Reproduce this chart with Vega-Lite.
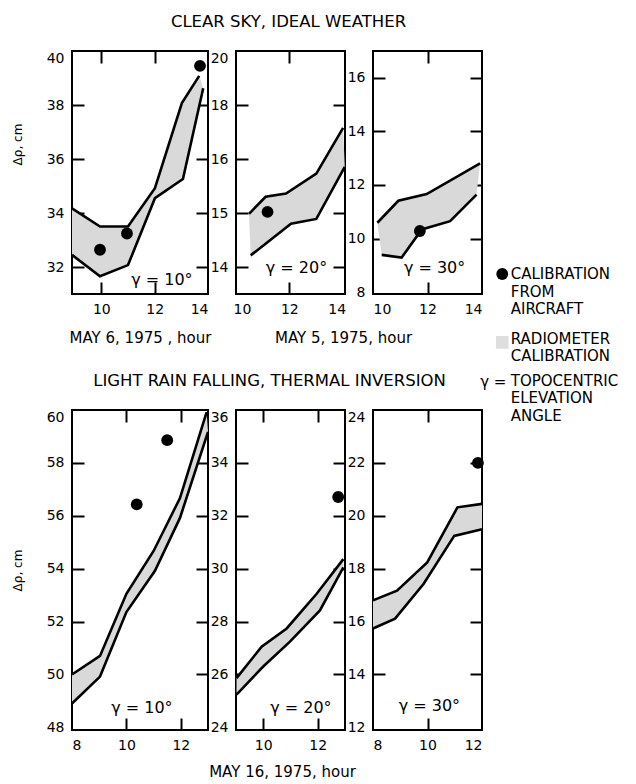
{
  "$schema": "https://vega.github.io/schema/vega-lite/v6.json",
  "background": "white",
  "padding": {"left": 10, "top": 12, "right": 2, "bottom": 4},
  "config": {
    "font": "DejaVu Sans",
    "view": {"stroke": "black", "strokeWidth": 2},
    "scale": {"nice": false, "zero": false},
    "axis": {
      "domain": false,
      "grid": false,
      "tickColor": "black",
      "tickWidth": 2,
      "tickSize": -12,
      "labelColor": "black",
      "labelFont": "DejaVu Sans",
      "labelFontSize": 14,
      "labelPadding": 8,
      "labelOverlap": false,
      "titleColor": "black",
      "titleFont": "DejaVu Sans",
      "titleFontSize": 15,
      "titleFontWeight": "normal"
    },
    "title": {"font": "DejaVu Sans", "fontWeight": "normal", "color": "black", "fontSize": 16.5},
    "text": {"font": "DejaVu Sans", "color": "black"}
  },
  "datasets": {
    "bands": [
      {"panel": "p1", "edge": "upper", "ring": 1, "hour": 8.9, "dr": 34.17},
      {"panel": "p1", "edge": "upper", "ring": 2, "hour": 9.95, "dr": 33.5},
      {"panel": "p1", "edge": "upper", "ring": 3, "hour": 11.0, "dr": 33.5},
      {"panel": "p1", "edge": "upper", "ring": 4, "hour": 12.01, "dr": 34.92},
      {"panel": "p1", "edge": "upper", "ring": 5, "hour": 13.02, "dr": 38.07},
      {"panel": "p1", "edge": "upper", "ring": 6, "hour": 13.67, "dr": 39.08},
      {"panel": "p1", "edge": "lower", "ring": 12, "hour": 8.9, "dr": 32.45},
      {"panel": "p1", "edge": "lower", "ring": 11, "hour": 9.95, "dr": 31.66},
      {"panel": "p1", "edge": "lower", "ring": 10, "hour": 11.0, "dr": 32.07},
      {"panel": "p1", "edge": "lower", "ring": 9, "hour": 12.01, "dr": 34.55},
      {"panel": "p1", "edge": "lower", "ring": 8, "hour": 13.06, "dr": 35.26},
      {"panel": "p1", "edge": "lower", "ring": 7, "hour": 13.82, "dr": 38.62},

      {"panel": "p2", "edge": "upper", "ring": 1, "hour": 10.3, "dr": 13.97},
      {"panel": "p2", "edge": "upper", "ring": 2, "hour": 11.0, "dr": 14.6},
      {"panel": "p2", "edge": "upper", "ring": 3, "hour": 11.86, "dr": 14.72},
      {"panel": "p2", "edge": "upper", "ring": 4, "hour": 13.14, "dr": 15.46},
      {"panel": "p2", "edge": "upper", "ring": 5, "hour": 14.27, "dr": 17.15},
      {"panel": "p2", "edge": "lower", "ring": 9, "hour": 10.37, "dr": 12.43},
      {"panel": "p2", "edge": "lower", "ring": 8, "hour": 12.07, "dr": 13.6},
      {"panel": "p2", "edge": "lower", "ring": 7, "hour": 13.14, "dr": 13.78},
      {"panel": "p2", "edge": "lower", "ring": 6, "hour": 14.34, "dr": 15.71},

      {"panel": "p3", "edge": "upper", "ring": 1, "hour": 10.16, "dr": 10.59},
      {"panel": "p3", "edge": "upper", "ring": 2, "hour": 10.93, "dr": 11.41},
      {"panel": "p3", "edge": "upper", "ring": 3, "hour": 11.97, "dr": 11.66},
      {"panel": "p3", "edge": "upper", "ring": 4, "hour": 13.93, "dr": 12.81},
      {"panel": "p3", "edge": "lower", "ring": 9, "hour": 10.32, "dr": 9.39},
      {"panel": "p3", "edge": "lower", "ring": 8, "hour": 11.05, "dr": 9.29},
      {"panel": "p3", "edge": "lower", "ring": 7, "hour": 11.79, "dr": 10.34},
      {"panel": "p3", "edge": "lower", "ring": 6, "hour": 12.83, "dr": 10.65},
      {"panel": "p3", "edge": "lower", "ring": 5, "hour": 13.8, "dr": 11.64},

      {"panel": "p4", "edge": "upper", "ring": 1, "hour": 8.0, "dr": 50.0},
      {"panel": "p4", "edge": "upper", "ring": 2, "hour": 9.03, "dr": 50.7},
      {"panel": "p4", "edge": "upper", "ring": 3, "hour": 10.0, "dr": 53.05},
      {"panel": "p4", "edge": "upper", "ring": 4, "hour": 11.0, "dr": 54.67},
      {"panel": "p4", "edge": "upper", "ring": 5, "hour": 11.97, "dr": 56.67},
      {"panel": "p4", "edge": "upper", "ring": 6, "hour": 12.95, "dr": 59.92},
      {"panel": "p4", "edge": "lower", "ring": 12, "hour": 8.0, "dr": 48.9},
      {"panel": "p4", "edge": "lower", "ring": 11, "hour": 9.03, "dr": 49.92},
      {"panel": "p4", "edge": "lower", "ring": 10, "hour": 10.0, "dr": 52.36},
      {"panel": "p4", "edge": "lower", "ring": 9, "hour": 11.05, "dr": 53.92},
      {"panel": "p4", "edge": "lower", "ring": 8, "hour": 11.97, "dr": 55.92},
      {"panel": "p4", "edge": "lower", "ring": 7, "hour": 13.0, "dr": 59.17},

      {"panel": "p5", "edge": "upper", "ring": 1, "hour": 9.02, "dr": 25.86},
      {"panel": "p5", "edge": "upper", "ring": 2, "hour": 9.94, "dr": 27.05},
      {"panel": "p5", "edge": "upper", "ring": 3, "hour": 10.86, "dr": 27.74},
      {"panel": "p5", "edge": "upper", "ring": 4, "hour": 11.96, "dr": 29.05},
      {"panel": "p5", "edge": "upper", "ring": 5, "hour": 12.94, "dr": 30.36},
      {"panel": "p5", "edge": "lower", "ring": 10, "hour": 9.02, "dr": 25.24},
      {"panel": "p5", "edge": "lower", "ring": 9, "hour": 10.0, "dr": 26.3},
      {"panel": "p5", "edge": "lower", "ring": 8, "hour": 10.98, "dr": 27.24},
      {"panel": "p5", "edge": "lower", "ring": 7, "hour": 12.08, "dr": 28.42},
      {"panel": "p5", "edge": "lower", "ring": 6, "hour": 12.94, "dr": 30.05},

      {"panel": "p6", "edge": "upper", "ring": 1, "hour": 8.0, "dr": 16.8},
      {"panel": "p6", "edge": "upper", "ring": 2, "hour": 8.88, "dr": 17.17},
      {"panel": "p6", "edge": "upper", "ring": 3, "hour": 9.99, "dr": 18.24},
      {"panel": "p6", "edge": "upper", "ring": 4, "hour": 11.1, "dr": 20.32},
      {"panel": "p6", "edge": "upper", "ring": 5, "hour": 12.0, "dr": 20.45},
      {"panel": "p6", "edge": "lower", "ring": 10, "hour": 8.0, "dr": 15.74},
      {"panel": "p6", "edge": "lower", "ring": 9, "hour": 8.81, "dr": 16.11},
      {"panel": "p6", "edge": "lower", "ring": 8, "hour": 9.86, "dr": 17.43},
      {"panel": "p6", "edge": "lower", "ring": 7, "hour": 10.98, "dr": 19.24},
      {"panel": "p6", "edge": "lower", "ring": 6, "hour": 12.0, "dr": 19.49}
    ],
    "aircraft": [
      {"panel": "p1", "hour": 9.95, "dr": 32.64},
      {"panel": "p1", "hour": 10.96, "dr": 33.24},
      {"panel": "p1", "hour": 13.7, "dr": 39.45},
      {"panel": "p2", "hour": 11.08, "dr": 14.04},
      {"panel": "p3", "hour": 11.72, "dr": 10.28},
      {"panel": "p4", "hour": 10.38, "dr": 56.43},
      {"panel": "p4", "hour": 11.5, "dr": 58.86},
      {"panel": "p5", "hour": 12.75, "dr": 32.71},
      {"panel": "p6", "hour": 11.85, "dr": 22.0}
    ],
    "gamma": [
      {"panel": "p1", "label": "γ = 10°", "hour": 12.27, "dr": 31.51},
      {"panel": "p2", "label": "γ = 20°", "hour": 12.3, "dr": 11.97},
      {"panel": "p3", "label": "γ = 30°", "hour": 12.26, "dr": 8.9},
      {"panel": "p4", "label": "γ = 10°", "hour": 10.57, "dr": 48.75},
      {"panel": "p5", "label": "γ = 20°", "hour": 11.38, "dr": 24.75},
      {"panel": "p6", "label": "γ = 30°", "hour": 10.07, "dr": 12.79}
    ],
    "legendText": [
      {"text": "CALIBRATION", "line": 0},
      {"text": "FROM", "line": 1},
      {"text": "AIRCRAFT", "line": 2},
      {"text": "RADIOMETER", "line": 3.7},
      {"text": "CALIBRATION", "line": 4.7},
      {"text": "TOPOCENTRIC", "line": 6.1},
      {"text": "ELEVATION", "line": 7.1},
      {"text": "ANGLE", "line": 8.1}
    ],
    "legendKeys": [
      {"key": "dot", "line": 0, "symbol": ""},
      {"key": "patch", "line": 3.9, "symbol": ""},
      {"key": "gamma", "line": 6.15, "symbol": "γ ="}
    ]
  },
  "columns": 4,
  "spacing": {"row": 116, "column": 28},
  "bounds": "flush",
  "concat": [
    {
      "width": 136, "height": 243,
      "layer": [
        {
          "data": {"name": "bands"}, "transform": [{"filter": "datum.panel == 'p1'"}],
          "mark": {"type": "line", "fill": "#d9d9d9", "stroke": "transparent", "strokeWidth": 0},
          "encoding": {
            "x": {"field": "hour", "type": "quantitative", "scale": {"domain": [8.9, 14], "nice": false},
                  "axis": {"orient": "bottom", "values": [10, 12, 14], "ticks": false, "labelFlush": true, "title": "MAY 6, 1975 , hour", "titlePadding": 14}},
            "y": {"field": "dr", "type": "quantitative", "scale": {"domain": [31, 40], "nice": false},
                  "axis": {"orient": "left", "values": [32, 34, 36, 38, 40], "ticks": false, "labelFlush": true, "title": "Δρ, cm", "titleFontSize": 12, "titlePadding": 22, "titleY": 93}},
            "order": {"field": "ring"}
          }
        },
        {
          "data": {"name": "bands"}, "transform": [{"filter": "datum.panel == 'p1'"}],
          "mark": {"type": "line", "color": "black", "strokeWidth": 2.6},
          "encoding": {
            "x": {"field": "hour", "type": "quantitative", "axis": {"orient": "top", "values": [10, 12], "labels": false, "title": null}},
            "y": {"field": "dr", "type": "quantitative", "axis": {"orient": "right", "values": [32, 34, 36, 38], "labels": false, "title": null}},
            "detail": {"field": "edge"},
            "order": {"field": "hour"}
          }
        },
        {
          "data": {"name": "aircraft"}, "transform": [{"filter": "datum.panel == 'p1'"}],
          "mark": {"type": "circle", "color": "black", "size": 140, "opacity": 1},
          "encoding": {
            "x": {"field": "hour", "type": "quantitative", "axis": {"orient": "bottom", "values": [10, 12], "labels": false, "title": null}},
            "y": {"field": "dr", "type": "quantitative", "axis": {"orient": "left", "values": [32, 34, 36, 38], "labels": false, "title": null}}
          }
        },
        {
          "data": {"name": "gamma"}, "transform": [{"filter": "datum.panel == 'p1'"}],
          "mark": {"type": "text", "fontSize": 16},
          "encoding": {
            "x": {"field": "hour", "type": "quantitative", "axis": null},
            "y": {"field": "dr", "type": "quantitative", "axis": null},
            "text": {"field": "label"}
          }
        }
      ],
      "resolve": {"axis": {"x": "independent", "y": "independent"}}
    },
    {
      "width": 109, "height": 243,
      "title": {"text": "CLEAR SKY, IDEAL WEATHER", "anchor": "middle", "frame": "group", "offset": 20, "dx": -2},
      "layer": [
        {
          "data": {"name": "bands"}, "transform": [{"filter": "datum.panel == 'p2'"}],
          "mark": {"type": "line", "fill": "#d9d9d9", "stroke": "transparent", "strokeWidth": 0},
          "encoding": {
            "x": {"field": "hour", "type": "quantitative", "scale": {"domain": [9.75, 14.35], "nice": false},
                  "axis": {"orient": "bottom", "values": [10, 12, 14], "ticks": false, "labelFlush": true, "title": "MAY 5, 1975, hour", "titlePadding": 14, "titleX": 107}},
            "y": {"field": "dr", "type": "quantitative", "scale": {"domain": [11, 20], "nice": false},
                  "axis": {"orient": "left", "values": [12, 14, 16, 18, 20], "ticks": false, "labelFlush": true, "title": null,
                           "labelExpr": "datum.value == 14 ? '15' : datum.value == 12 ? '14' : datum.label"}},
            "order": {"field": "ring"}
          }
        },
        {
          "data": {"name": "bands"}, "transform": [{"filter": "datum.panel == 'p2'"}],
          "mark": {"type": "line", "color": "black", "strokeWidth": 2.6},
          "encoding": {
            "x": {"field": "hour", "type": "quantitative", "axis": {"orient": "top", "values": [12], "labels": false, "title": null}},
            "y": {"field": "dr", "type": "quantitative", "axis": {"orient": "right", "values": [12, 14, 16, 18], "labels": false, "title": null}},
            "detail": {"field": "edge"},
            "order": {"field": "hour"}
          }
        },
        {
          "data": {"name": "aircraft"}, "transform": [{"filter": "datum.panel == 'p2'"}],
          "mark": {"type": "circle", "color": "black", "size": 140, "opacity": 1},
          "encoding": {
            "x": {"field": "hour", "type": "quantitative", "axis": {"orient": "bottom", "values": [12], "labels": false, "title": null}},
            "y": {"field": "dr", "type": "quantitative", "axis": {"orient": "left", "values": [12, 14, 16, 18], "labels": false, "title": null}}
          }
        },
        {
          "data": {"name": "gamma"}, "transform": [{"filter": "datum.panel == 'p2'"}],
          "mark": {"type": "text", "fontSize": 16},
          "encoding": {
            "x": {"field": "hour", "type": "quantitative", "axis": null},
            "y": {"field": "dr", "type": "quantitative", "axis": null},
            "text": {"field": "label"}
          }
        }
      ],
      "resolve": {"axis": {"x": "independent", "y": "independent"}}
    },
    {
      "width": 109, "height": 243,
      "layer": [
        {
          "data": {"name": "bands"}, "transform": [{"filter": "datum.panel == 'p3'"}],
          "mark": {"type": "line", "fill": "#d9d9d9", "stroke": "transparent", "strokeWidth": 0},
          "encoding": {
            "x": {"field": "hour", "type": "quantitative", "scale": {"domain": [10, 14], "nice": false},
                  "axis": {"orient": "bottom", "values": [10, 12, 14], "ticks": false, "labelFlush": true, "title": null}},
            "y": {"field": "dr", "type": "quantitative", "scale": {"domain": [7.93, 17], "nice": false},
                  "axis": {"orient": "left", "values": [8, 10, 12, 14, 16], "ticks": false, "labelFlush": true, "title": null}},
            "order": {"field": "ring"}
          }
        },
        {
          "data": {"name": "bands"}, "transform": [{"filter": "datum.panel == 'p3'"}],
          "mark": {"type": "line", "color": "black", "strokeWidth": 2.6},
          "encoding": {
            "x": {"field": "hour", "type": "quantitative", "axis": {"orient": "top", "values": [12], "labels": false, "title": null}},
            "y": {"field": "dr", "type": "quantitative", "axis": {"orient": "right", "values": [10, 12, 14, 16], "labels": false, "title": null}},
            "detail": {"field": "edge"},
            "order": {"field": "hour"}
          }
        },
        {
          "data": {"name": "aircraft"}, "transform": [{"filter": "datum.panel == 'p3'"}],
          "mark": {"type": "circle", "color": "black", "size": 140, "opacity": 1},
          "encoding": {
            "x": {"field": "hour", "type": "quantitative", "axis": {"orient": "bottom", "values": [12], "labels": false, "title": null}},
            "y": {"field": "dr", "type": "quantitative", "axis": {"orient": "left", "values": [10, 12, 14, 16], "labels": false, "title": null}}
          }
        },
        {
          "data": {"name": "gamma"}, "transform": [{"filter": "datum.panel == 'p3'"}],
          "mark": {"type": "text", "fontSize": 16},
          "encoding": {
            "x": {"field": "hour", "type": "quantitative", "axis": null},
            "y": {"field": "dr", "type": "quantitative", "axis": null},
            "text": {"field": "label"}
          }
        }
      ],
      "resolve": {"axis": {"x": "independent", "y": "independent"}}
    },
    {
      "width": 100, "height": 243,
      "view": {"stroke": null},
      "layer": [
        {
          "data": {"name": "legendText"},
          "mark": {"type": "text", "align": "left", "baseline": "middle", "fontSize": 15},
          "encoding": {
            "x": {"datum": "text", "type": "nominal", "scale": {"type": "point", "domain": ["key", "text"], "range": [-12, 5]}, "axis": null},
            "y": {"field": "line", "type": "quantitative", "scale": {"domain": [0, 8.1], "range": [223, 365], "nice": false}, "axis": null},
            "text": {"field": "text"}
          }
        },
        {
          "data": {"name": "legendKeys"}, "transform": [{"filter": "datum.key == 'dot'"}],
          "mark": {"type": "circle", "color": "black", "size": 140, "opacity": 1},
          "encoding": {
            "x": {"datum": "key", "type": "nominal"},
            "y": {"field": "line", "type": "quantitative"}
          }
        },
        {
          "data": {"name": "legendKeys"}, "transform": [{"filter": "datum.key == 'patch'"}],
          "mark": {"type": "square", "color": "#dedede", "size": 160, "opacity": 1},
          "encoding": {
            "x": {"datum": "key", "type": "nominal"},
            "y": {"field": "line", "type": "quantitative"}
          }
        },
        {
          "data": {"name": "legendKeys"}, "transform": [{"filter": "datum.key == 'gamma'"}],
          "mark": {"type": "text", "fontSize": 15, "dx": -9, "baseline": "middle"},
          "encoding": {
            "x": {"datum": "key", "type": "nominal"},
            "y": {"field": "line", "type": "quantitative"},
            "text": {"field": "symbol"}
          }
        }
      ]
    },
    {
      "width": 136, "height": 320,
      "layer": [
        {
          "data": {"name": "bands"}, "transform": [{"filter": "datum.panel == 'p4'"}],
          "mark": {"type": "line", "fill": "#d9d9d9", "stroke": "transparent", "strokeWidth": 0},
          "encoding": {
            "x": {"field": "hour", "type": "quantitative", "scale": {"domain": [8, 13], "nice": false},
                  "axis": {"orient": "bottom", "values": [8, 10, 12], "ticks": false, "labelFlush": true, "title": null}},
            "y": {"field": "dr", "type": "quantitative", "scale": {"domain": [47.9, 60], "nice": false},
                  "axis": {"orient": "left", "values": [48, 50, 52, 54, 56, 58, 60], "ticks": false, "labelFlush": true, "title": "Δρ, cm", "titleFontSize": 12, "titlePadding": 22}},
            "order": {"field": "ring"}
          }
        },
        {
          "data": {"name": "bands"}, "transform": [{"filter": "datum.panel == 'p4'"}],
          "mark": {"type": "line", "color": "black", "strokeWidth": 2.6},
          "encoding": {
            "x": {"field": "hour", "type": "quantitative", "axis": {"orient": "top", "values": [10, 12], "labels": false, "title": null}},
            "y": {"field": "dr", "type": "quantitative", "axis": {"orient": "right", "values": [50, 52, 54, 56, 58], "labels": false, "title": null}},
            "detail": {"field": "edge"},
            "order": {"field": "hour"}
          }
        },
        {
          "data": {"name": "aircraft"}, "transform": [{"filter": "datum.panel == 'p4'"}],
          "mark": {"type": "circle", "color": "black", "size": 140, "opacity": 1},
          "encoding": {
            "x": {"field": "hour", "type": "quantitative", "axis": {"orient": "bottom", "values": [10, 12], "labels": false, "title": null}},
            "y": {"field": "dr", "type": "quantitative", "axis": {"orient": "left", "values": [50, 52, 54, 56, 58], "labels": false, "title": null}}
          }
        },
        {
          "data": {"name": "gamma"}, "transform": [{"filter": "datum.panel == 'p4'"}],
          "mark": {"type": "text", "fontSize": 16},
          "encoding": {
            "x": {"field": "hour", "type": "quantitative", "axis": null},
            "y": {"field": "dr", "type": "quantitative", "axis": null},
            "text": {"field": "label"}
          }
        }
      ],
      "resolve": {"axis": {"x": "independent", "y": "independent"}}
    },
    {
      "width": 109, "height": 320,
      "title": {"text": "LIGHT RAIN FALLING, THERMAL INVERSION", "anchor": "middle", "frame": "group", "offset": 20, "dx": -21},
      "layer": [
        {
          "data": {"name": "bands"}, "transform": [{"filter": "datum.panel == 'p5'"}],
          "mark": {"type": "line", "fill": "#d9d9d9", "stroke": "transparent", "strokeWidth": 0},
          "encoding": {
            "x": {"field": "hour", "type": "quantitative", "scale": {"domain": [9, 13], "nice": false},
                  "axis": {"orient": "bottom", "values": [10, 12], "ticks": false, "labelFlush": true, "title": "MAY 16, 1975, hour", "titlePadding": 12, "titleX": 46}},
            "y": {"field": "dr", "type": "quantitative", "scale": {"domain": [23.9, 36], "nice": false},
                  "axis": {"orient": "left", "values": [24, 26, 28, 30, 32, 34, 36], "ticks": false, "labelFlush": true, "title": null}},
            "order": {"field": "ring"}
          }
        },
        {
          "data": {"name": "bands"}, "transform": [{"filter": "datum.panel == 'p5'"}],
          "mark": {"type": "line", "color": "black", "strokeWidth": 2.6},
          "encoding": {
            "x": {"field": "hour", "type": "quantitative", "axis": {"orient": "top", "values": [10, 12], "labels": false, "title": null}},
            "y": {"field": "dr", "type": "quantitative", "axis": {"orient": "right", "values": [26, 28, 30, 32, 34], "labels": false, "title": null}},
            "detail": {"field": "edge"},
            "order": {"field": "hour"}
          }
        },
        {
          "data": {"name": "aircraft"}, "transform": [{"filter": "datum.panel == 'p5'"}],
          "mark": {"type": "circle", "color": "black", "size": 140, "opacity": 1},
          "encoding": {
            "x": {"field": "hour", "type": "quantitative", "axis": {"orient": "bottom", "values": [10, 12], "labels": false, "title": null}},
            "y": {"field": "dr", "type": "quantitative", "axis": {"orient": "left", "values": [26, 28, 30, 32, 34], "labels": false, "title": null}}
          }
        },
        {
          "data": {"name": "gamma"}, "transform": [{"filter": "datum.panel == 'p5'"}],
          "mark": {"type": "text", "fontSize": 16},
          "encoding": {
            "x": {"field": "hour", "type": "quantitative", "axis": null},
            "y": {"field": "dr", "type": "quantitative", "axis": null},
            "text": {"field": "label"}
          }
        }
      ],
      "resolve": {"axis": {"x": "independent", "y": "independent"}}
    },
    {
      "width": 109, "height": 320,
      "layer": [
        {
          "data": {"name": "bands"}, "transform": [{"filter": "datum.panel == 'p6'"}],
          "mark": {"type": "line", "fill": "#d9d9d9", "stroke": "transparent", "strokeWidth": 0},
          "encoding": {
            "x": {"field": "hour", "type": "quantitative", "scale": {"domain": [8, 12], "nice": false},
                  "axis": {"orient": "bottom", "values": [8, 10, 12], "ticks": false, "labelFlush": true, "title": null}},
            "y": {"field": "dr", "type": "quantitative", "scale": {"domain": [11.9, 24], "nice": false},
                  "axis": {"orient": "left", "values": [12, 14, 16, 18, 20, 22, 24], "ticks": false, "labelFlush": true, "title": null}},
            "order": {"field": "ring"}
          }
        },
        {
          "data": {"name": "bands"}, "transform": [{"filter": "datum.panel == 'p6'"}],
          "mark": {"type": "line", "color": "black", "strokeWidth": 2.6},
          "encoding": {
            "x": {"field": "hour", "type": "quantitative", "axis": {"orient": "top", "values": [10], "labels": false, "title": null}},
            "y": {"field": "dr", "type": "quantitative", "axis": {"orient": "right", "values": [14, 16, 18, 20, 22], "labels": false, "title": null}},
            "detail": {"field": "edge"},
            "order": {"field": "hour"}
          }
        },
        {
          "data": {"name": "aircraft"}, "transform": [{"filter": "datum.panel == 'p6'"}],
          "mark": {"type": "circle", "color": "black", "size": 140, "opacity": 1},
          "encoding": {
            "x": {"field": "hour", "type": "quantitative", "axis": {"orient": "bottom", "values": [10], "labels": false, "title": null}},
            "y": {"field": "dr", "type": "quantitative", "axis": {"orient": "left", "values": [14, 16, 18, 20, 22], "labels": false, "title": null}}
          }
        },
        {
          "data": {"name": "gamma"}, "transform": [{"filter": "datum.panel == 'p6'"}],
          "mark": {"type": "text", "fontSize": 16},
          "encoding": {
            "x": {"field": "hour", "type": "quantitative", "axis": null},
            "y": {"field": "dr", "type": "quantitative", "axis": null},
            "text": {"field": "label"}
          }
        }
      ],
      "resolve": {"axis": {"x": "independent", "y": "independent"}}
    }
  ]
}
